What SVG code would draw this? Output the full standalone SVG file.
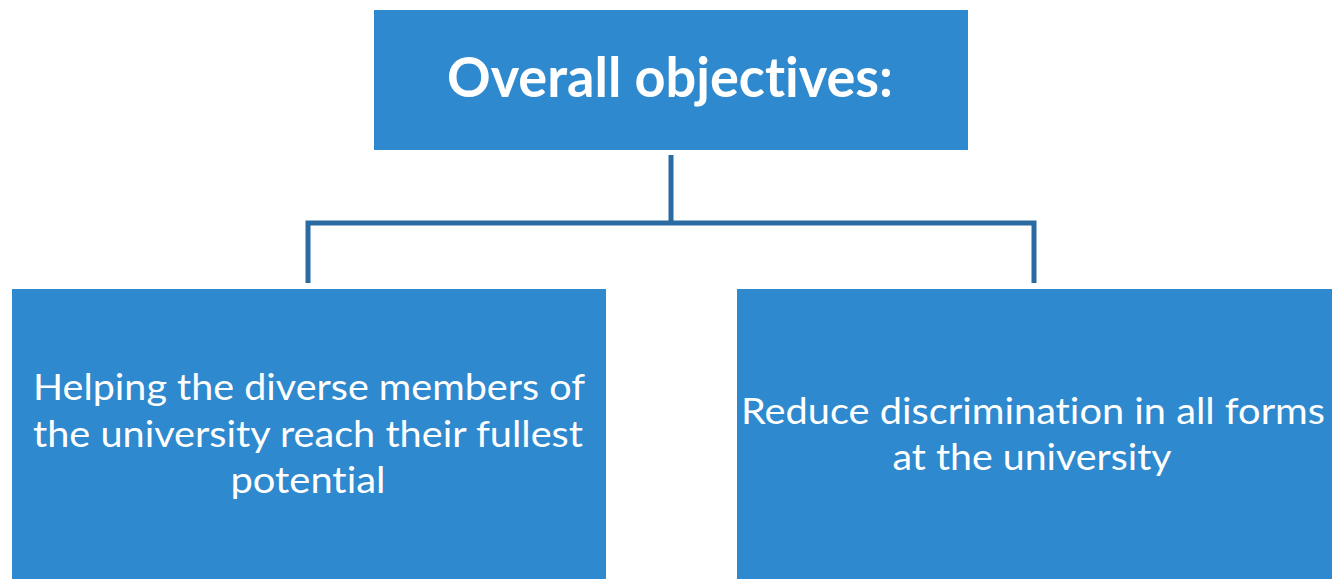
<svg xmlns="http://www.w3.org/2000/svg" width="1332" height="579" viewBox="0 0 1332 579">
<style>
.box{fill:#2E89CE;}
.t{font-family:Lato,"Open Sans","Liberation Sans",sans-serif;fill:#FFFFFF;text-anchor:middle;font-variant-ligatures:none;font-feature-settings:"liga" 0;}
.title{font-size:55px;font-weight:bold;}
.body{font-size:37px;}
.conn{fill:none;stroke:#2A6BA2;stroke-width:5;stroke-linejoin:miter;}
</style>
<rect width="1332" height="579" fill="#FFFFFF"/>
<g id="connectors">
<line class="conn" x1="671" y1="155" x2="671" y2="223"/>
<polyline class="conn" points="308,283 308,223 1034,223 1034,283"/>
</g>
<g id="node-top">
<rect class="box" x="374" y="10" width="594" height="140"/>
<text class="t title" x="670" y="97" textLength="446" lengthAdjust="spacingAndGlyphs">Overall objectives:</text>
</g>
<g id="node-left">
<rect class="box" x="12" y="289" width="594" height="290"/>
<text class="t body" x="309" y="400" textLength="552" lengthAdjust="spacingAndGlyphs">Helping the diverse members of</text>
<text class="t body" x="308" y="447" textLength="550" lengthAdjust="spacingAndGlyphs">the university reach their fullest</text>
<text class="t body" x="308" y="493" textLength="155" lengthAdjust="spacingAndGlyphs">potential</text>
</g>
<g id="node-right">
<rect class="box" x="737" y="289" width="595" height="290"/>
<text class="t body" x="1033" y="424" textLength="584" lengthAdjust="spacingAndGlyphs">Reduce discrimination in all forms</text>
<text class="t body" x="1032" y="470" textLength="279" lengthAdjust="spacingAndGlyphs">at the university</text>
</g>
</svg>
